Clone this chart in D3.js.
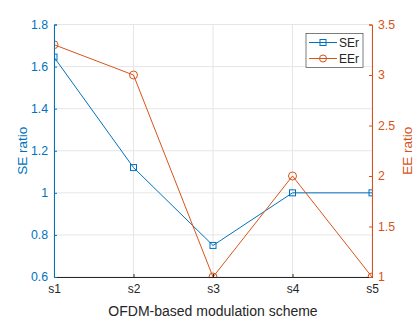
<!DOCTYPE html>
<html>
<head>
<meta charset="utf-8">
<script src="https://cdn.jsdelivr.net/npm/d3@7.9.0/dist/d3.min.js"></script>
<style>
  body { margin: 0; background: #fff; }
  svg { font-family: "Liberation Sans", Arial, sans-serif; }
</style>
</head>
<body>
<svg width="415" height="319"></svg>
<script>
const schemes = ['s1', 's2', 's3', 's4', 's5'];
const seRatio = [1.645, 1.12, 0.75, 1.0, 1.0];
const eeRatio = [3.3, 3.0, 1.0, 2.0, 1.0];
const seTicks = [0.6, 0.8, 1, 1.2, 1.4, 1.6, 1.8];
const eeTicks = [1, 1.5, 2, 2.5, 3, 3.5];

const blue = '#0072BD', orange = '#D95319';
const margin = { left: 54, right: 43, top: 24.5, bottom: 42 };
const W = 415, H = 319;

let svg = d3.select('svg');

let x = d3.scalePoint().domain(schemes).range([margin.left, W - margin.right]);
let yL = d3.scaleLinear().domain([0.6, 1.8]).range([H - margin.bottom, margin.top]);
let yR = d3.scaleLinear().domain([1, 3.5]).range([H - margin.bottom, margin.top]);

// grid
let grid = svg.append('g').attr('stroke', '#e6e6e6').attr('stroke-width', 1);
seTicks.forEach(t => grid.append('line')
  .attr('x1', margin.left).attr('x2', W - margin.right)
  .attr('y1', yL(t)).attr('y2', yL(t)));
schemes.forEach(s => grid.append('line')
  .attr('x1', x(s)).attr('x2', x(s))
  .attr('y1', margin.top).attr('y2', H - margin.bottom));

svg.append('clipPath').attr('id', 'plot').append('rect')
  .attr('x', margin.left).attr('y', margin.top)
  .attr('width', W - margin.left - margin.right)
  .attr('height', H - margin.top - margin.bottom);

let plot = svg.append('g').attr('clip-path', 'url(#plot)');

// SE series
plot.append('path')
  .datum(seRatio)
  .attr('fill', 'none').attr('stroke', blue).attr('stroke-width', 1)
  .attr('d', d3.line().x((d, i) => x(schemes[i])).y(d => yL(d)));
plot.selectAll('.sq').data(seRatio).join('rect')
  .attr('x', (d, i) => x(schemes[i]) - 3).attr('y', d => yL(d) - 3)
  .attr('width', 6).attr('height', 6)
  .attr('fill', 'none').attr('stroke', blue).attr('stroke-width', 1);

// EE series
plot.append('path')
  .datum(eeRatio)
  .attr('fill', 'none').attr('stroke', orange).attr('stroke-width', 1)
  .attr('d', d3.line().x((d, i) => x(schemes[i])).y(d => yR(d)));
plot.selectAll('.ci').data(eeRatio).join('circle')
  .attr('cx', (d, i) => x(schemes[i])).attr('cy', d => yR(d))
  .attr('r', 4)
  .attr('fill', 'none').attr('stroke', orange).attr('stroke-width', 1);

// axes
let axB = svg.append('g').attr('transform', `translate(0,${H - margin.bottom})`)
  .call(d3.axisBottom(x).tickSize(-3).tickPadding(7));
axB.select('.domain').attr('stroke', '#262626');
axB.selectAll('.tick line').attr('stroke', '#262626');
axB.selectAll('text').attr('fill', '#262626').attr('font-size', 12);

let axL = svg.append('g').attr('transform', `translate(${margin.left},0)`)
  .call(d3.axisLeft(yL).tickValues(seTicks).tickFormat(d3.format('')).tickSize(-3).tickPadding(6));
axL.select('.domain').attr('stroke', blue);
axL.selectAll('.tick line').attr('stroke', blue);
axL.selectAll('text').attr('fill', blue).attr('font-size', 12.3);

let axR = svg.append('g').attr('transform', `translate(${W - margin.right},0)`)
  .call(d3.axisRight(yR).tickValues(eeTicks).tickFormat(d3.format('')).tickSize(-3).tickPadding(6));
axR.select('.domain').attr('stroke', orange);
axR.selectAll('.tick line').attr('stroke', orange);
axR.selectAll('text').attr('fill', orange).attr('font-size', 12.3);

// labels
let midY = (margin.top + H - margin.bottom) / 2;
svg.append('text').attr('x', (margin.left + W - margin.right) / 2).attr('y', 316)
  .attr('text-anchor', 'middle').attr('font-size', 14).attr('fill', '#262626')
  .text('OFDM-based modulation scheme');
svg.append('text').attr('transform', `translate(27,${midY}) rotate(-90)`)
  .attr('text-anchor', 'middle').attr('font-size', 13.5).attr('fill', blue)
  .text('SE ratio');
svg.append('text').attr('transform', `translate(412,${midY}) rotate(-90)`)
  .attr('text-anchor', 'middle').attr('font-size', 13.5).attr('fill', orange)
  .text('EE ratio');

// legend
let lg = svg.append('g').attr('transform', 'translate(306,33.5)');
lg.append('rect').attr('width', 57).attr('height', 34)
  .attr('fill', '#fff').attr('stroke', '#262626').attr('stroke-width', 0.6);
[{ label: 'SEr', color: blue, mark: 'sq' }, { label: 'EEr', color: orange, mark: 'ci' }]
  .forEach((d, i) => {
    let yy = 9 + i * 16;
    lg.append('line').attr('x1', 3).attr('x2', 31).attr('y1', yy).attr('y2', yy)
      .attr('stroke', d.color);
    if (d.mark === 'sq') {
      lg.append('rect').attr('x', 14).attr('y', yy - 3).attr('width', 6).attr('height', 6)
        .attr('fill', 'none').attr('stroke', d.color);
    } else {
      lg.append('circle').attr('cx', 17).attr('cy', yy).attr('r', 3.5)
        .attr('fill', 'none').attr('stroke', d.color);
    }
    lg.append('text').attr('x', 33).attr('y', yy + 4).attr('font-size', 12)
      .attr('fill', '#262626').text(d.label);
  });
</script>
</body>
</html>
